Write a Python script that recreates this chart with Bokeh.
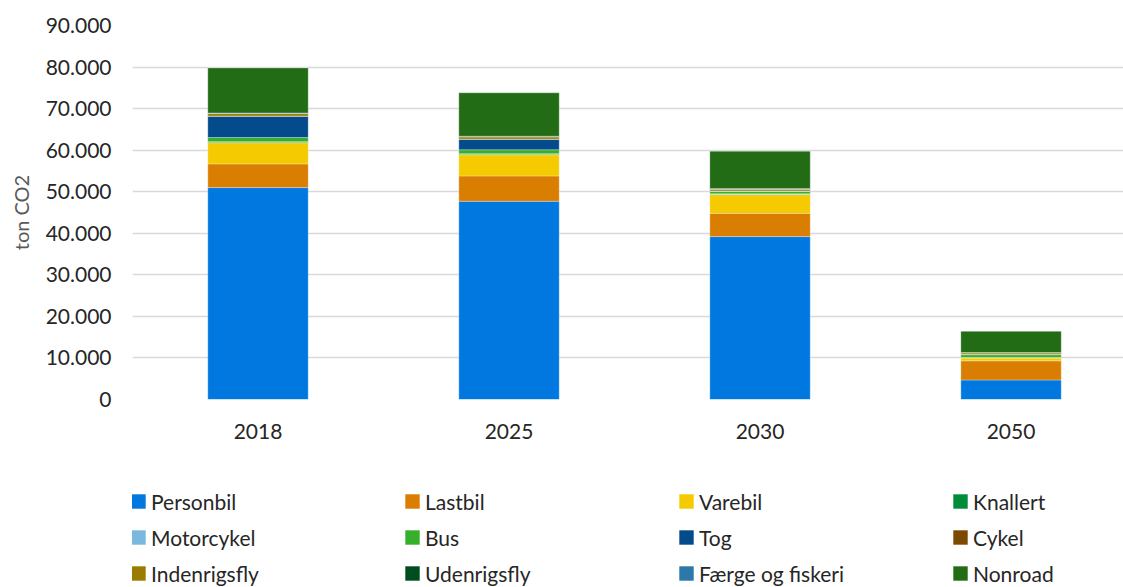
from bokeh.plotting import figure
from bokeh.layouts import column
from bokeh.models import (ColumnDataSource, Range1d, FixedTicker, Legend, LegendItem)
from bokeh.embed import file_html
from bokeh.resources import INLINE

# CO2 emissions from transport (ton CO2) by year and source
years = ["2018", "2025", "2030", "2050"]
personbil = [51000, 47700, 39200, 4700]
lastbil = [5700, 6100, 5600, 4600]
varebil = [5100, 5100, 4500, 700]
knallert = [150, 150, 100, 50]
motorcykel = [100, 100, 100, 50]
bus = [1000, 950, 600, 700]
tog = [5100, 2500, 50, 0]
cykel = [50, 50, 50, 50]
indenrigsfly = [600, 550, 400, 400]
udenrigsfly = [50, 50, 50, 0]
faerge = [100, 100, 100, 50]
nonroad = [10850, 10450, 9000, 5100]

series = ["Personbil", "Lastbil", "Varebil", "Knallert", "Motorcykel", "Bus",
          "Tog", "Cykel", "Indenrigsfly", "Udenrigsfly", "Færge og fiskeri", "Nonroad"]
values = [personbil, lastbil, varebil, knallert, motorcykel, bus,
          tog, cykel, indenrigsfly, udenrigsfly, faerge, nonroad]
colors = ["#0078E0", "#D97E00", "#F5CA00", "#008C3A", "#7AB8E0", "#36B02A",
          "#034B8A", "#7B4A00", "#9A7D00", "#004D20", "#2C78A8", "#226C16"]

y_ticks = list(range(0, 90001, 10000))

data = {"x": list(range(len(years)))}
for name, vals in zip(series, values):
    data[name] = vals
source = ColumnDataSource(data)

FONT = "Lato"
FONT_SIZE = "21px"
TEXT_COLOR = "#262626"

# main chart
p = figure(width=1123, height=470, output_backend="svg", toolbar_location=None,
           x_range=Range1d(-0.5, 3.448), y_range=Range1d(0, 90000),
           min_border_left=132, min_border_right=0, min_border_top=25,
           min_border_bottom=71)
p.outline_line_color = None

p.vbar_stack(series, x="x", width=0.4, source=source, color=colors,
             line_color="white", line_alpha=0.3, line_width=1)

p.xaxis.ticker = FixedTicker(ticks=data["x"])
p.xaxis.major_label_overrides = {i: y for i, y in enumerate(years)}
p.yaxis.ticker = FixedTicker(ticks=y_ticks)
p.yaxis.major_label_overrides = {t: f"{t:,}".replace(",", ".") for t in y_ticks}
for ax in (p.xaxis, p.yaxis):
    ax.axis_line_color = None
    ax.major_tick_line_color = None
    ax.minor_tick_line_color = None
    ax.major_label_text_font = FONT
    ax.major_label_text_font_size = FONT_SIZE
    ax.major_label_text_color = TEXT_COLOR
p.xaxis.major_label_standoff = 18
p.yaxis.major_label_standoff = 15
p.yaxis.axis_label = "ton CO2"
p.yaxis.axis_label_text_font = FONT
p.yaxis.axis_label_text_font_style = "normal"
p.yaxis.axis_label_text_font_size = "20px"
p.yaxis.axis_label_text_color = "#595959"
p.yaxis.axis_label_standoff = 10

p.xgrid.grid_line_color = None
p.ygrid.grid_line_color = "#D9D9D9"
p.ygrid.grid_line_width = 1.5

# legend strip below the chart (its frame is aligned with the chart's frame)
lg = figure(width=1123, height=117, output_backend="svg", toolbar_location=None,
            x_range=Range1d(0, 1), y_range=Range1d(0, 1),
            min_border=0, outline_line_color=None)
lg.axis.visible = False
lg.grid.visible = False
swatches = [lg.vbar(x=[-10], top=[0], width=0.1, fill_color=c, line_color=None)
            for c in colors]
items = [LegendItem(label=name, renderers=[r]) for name, r in zip(series, swatches)]
legend = Legend(items=items, ncols=4, location=(-3, -4), orientation="horizontal",
                label_width=252, label_height=36, spacing=0, padding=0, margin=0,
                glyph_width=18, glyph_height=18, label_standoff=4,
                border_line_alpha=0, background_fill_alpha=0,
                label_text_font=FONT, label_text_font_size=FONT_SIZE,
                label_text_color=TEXT_COLOR)
lg.add_layout(legend, "center")

layout = column(p, lg, spacing=0)
open("out.html", "w").write(file_html(layout, INLINE))
